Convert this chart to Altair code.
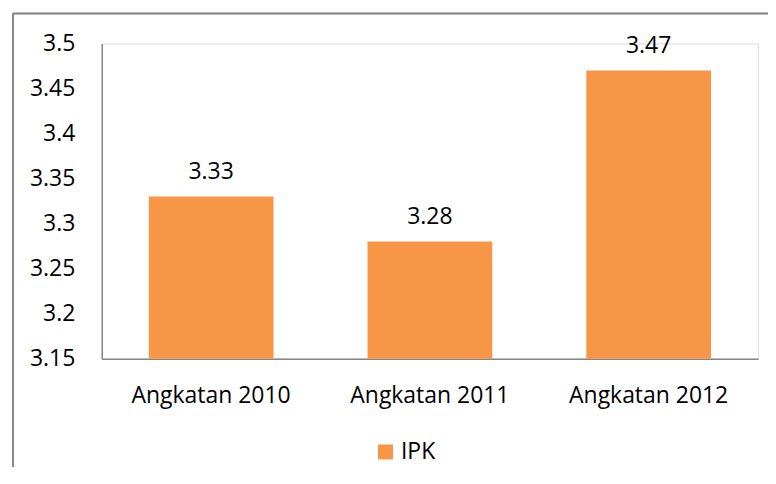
import altair as alt
import pandas as pd

categories = ["Angkatan 2010", "Angkatan 2011", "Angkatan 2012"]
values = [3.33, 3.28, 3.47]
series = ["IPK", "IPK", "IPK"]
y_ticks = [3.15, 3.2, 3.25, 3.3, 3.35, 3.4, 3.45, 3.5]

df = pd.DataFrame({"cat": categories, "val": values, "series": series})

FONT = "Open Sans"
FS = 23
W, H = 658, 316

x = alt.X("cat:N", sort=categories, title=None,
          scale=alt.Scale(paddingInner=0.43, paddingOuter=0.215),
          axis=alt.Axis(labelAngle=0, labelFontSize=FS, labelFont=FONT, labelColor="#000000",
                        domainColor="#868686", domainWidth=1.5, ticks=False, labelPadding=26))
y = alt.Y("val:Q", title=None,
          scale=alt.Scale(domain=[3.15, 3.5], zero=False, nice=False),
          axis=alt.Axis(values=y_ticks, format=".2~f", grid=False, ticks=False,
                        labelFontSize=FS, labelFont=FONT, labelColor="#000000",
                        domainColor="#868686", domainWidth=1.5, labelPadding=27))

bars = alt.Chart(df).mark_bar(clip=True).encode(
    x=x, y=y,
    color=alt.Color("series:N", scale=alt.Scale(range=["#F79646"]),
                    legend=alt.Legend(title=None, orient="none", legendX=273, legendY=398,
                                      symbolType="square", symbolSize=225, symbolStrokeWidth=0,
                                      labelFontSize=FS, labelFont=FONT, labelColor="#000000",
                                      labelOffset=4)),
)

labels = alt.Chart(df).mark_text(fontSize=FS, font=FONT, color="#000000", baseline="bottom", dy=-13).encode(
    x=alt.X("cat:N", sort=categories),
    y=alt.Y("val:Q"),
    text=alt.Text("val:Q", format=".2f"),
)

left_edge = alt.Chart(df).mark_rule(stroke="#888888", strokeWidth=1.5).encode(
    x=alt.value(-89), y=alt.value(-30), y2=alt.value(H + 200)
)
top_edge = alt.Chart(df).mark_rule(stroke="#888888", strokeWidth=1.5).encode(
    y=alt.value(-30), x=alt.value(-89), x2=alt.value(W + 200)
)

chart = alt.layer(left_edge, top_edge, bars, labels).properties(
    width=W, height=H,
    autosize=alt.AutoSizeParams(type="none"),
    padding={"left": 94, "top": 35, "right": 10, "bottom": 108},
).configure_view(stroke=None).configure(background="white")

chart.save("out.html", embed_options={"renderer": "svg", "actions": False})
